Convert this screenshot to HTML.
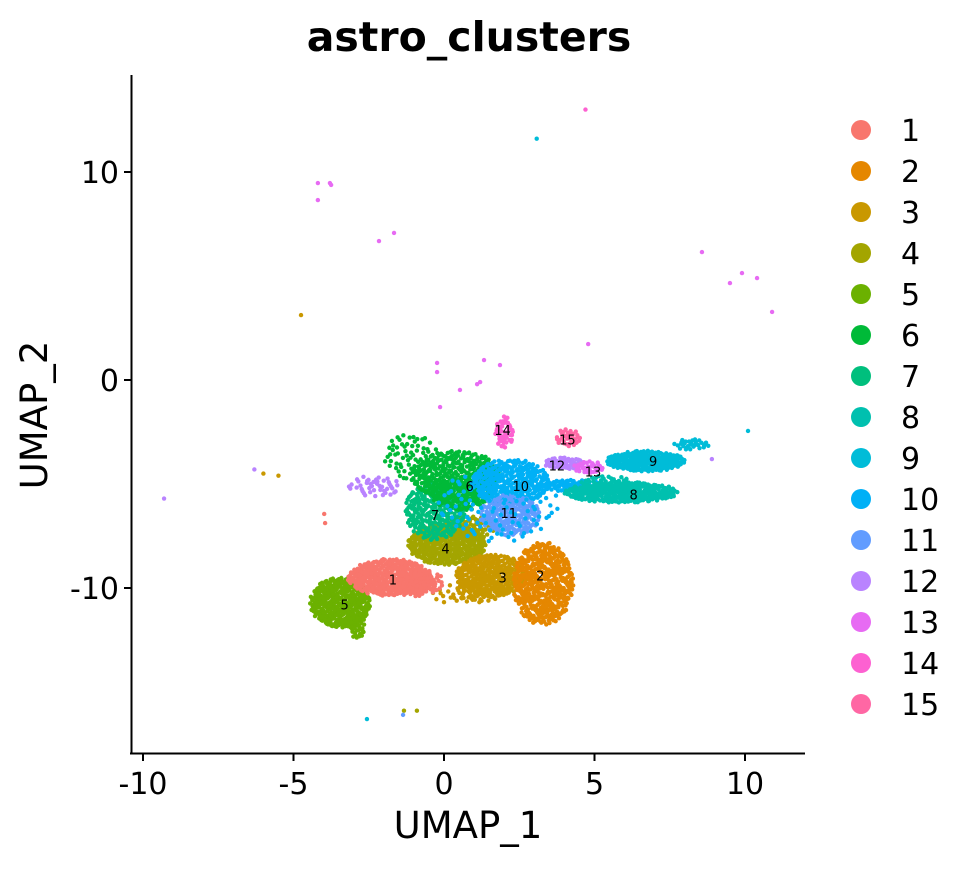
<!DOCTYPE html>
<html><head><meta charset="utf-8"><style>
body{margin:0;background:#fff;}
svg text{font-family:"DejaVu Sans","Liberation Sans",sans-serif;}
</style></head><body>
<svg id="chart" width="960" height="864" xmlns="http://www.w3.org/2000/svg">
<rect width="960" height="864" fill="#fff"/>
<text x="469" y="51" font-size="41" font-weight="bold" text-anchor="middle">astro_clusters</text>
<g id="points"></g>
<g id="labels"></g>
<line x1="131.5" y1="75" x2="131.5" y2="754" stroke="#000" stroke-width="2"/>
<line x1="130" y1="753.5" x2="805" y2="753.5" stroke="#000" stroke-width="2"/>
<g id="axes"></g>
<text x="468" y="838" font-size="37" text-anchor="middle">UMAP_1</text>
<text transform="translate(47,415) rotate(-90)" font-size="37" text-anchor="middle">UMAP_2</text>
<g id="legend"></g>
</svg>
<script>
const colors=["#F8766D","#E58700","#C99800","#A3A500","#6BB100","#00BA38","#00BF7D","#00C0AF","#00BCD8","#00B0F6","#619CFF","#B983FF","#E76BF3","#FD61D1","#FF67A4"];
const clusterNames=["1","2","3","4","5","6","7","8","9","10","11","12","13","14","15"];
const xTicks=[-10,-5,0,5,10];
const yTicks=[10,0,-10];
// blobs: cluster index, centre, radii (data units), count
const blobCluster=[4,4,0,0,3,3,6,5,5,5,9,9,10,2,2,1,7,7,8,8,11,11,12,13,14,2,0,9];
const blobX=[-3.45,-2.9,-1.8,-0.9,0.1,0.9,-0.3,0.4,-1.1,0.6,2.2,4.3,2.2,1.6,1.2,3.3,5.9,5.4,6.7,8.2,4.0,-2.3,4.8,2.0,4.15,0.5,-0.3,1.8];
const blobY=[-10.7,-11.8,-9.5,-9.8,-7.9,-7.1,-6.3,-4.6,-3.7,-5.5,-4.9,-5.1,-6.5,-9.4,-10.1,-9.8,-5.4,-5.0,-3.9,-3.1,-4.0,-5.1,-4.2,-2.5,-2.75,-10.3,-9.8,-6.0];
const blobRX=[1.0,0.3,1.4,0.6,1.3,0.8,1.0,1.5,0.9,1.0,1.3,1.0,1.0,1.2,0.8,1.0,1.9,0.9,1.3,0.6,0.7,0.9,0.5,0.3,0.45,0.9,0.3,2.0];
const blobRY=[1.2,0.6,0.9,0.6,1.0,0.6,1.4,1.2,1.1,0.8,1.1,0.3,1.0,1.0,0.6,2.0,0.5,0.4,0.5,0.25,0.3,0.5,0.3,0.8,0.45,0.5,0.5,1.8];
const blobN=[400,40,400,80,400,80,300,350,70,150,320,80,220,330,60,480,300,60,250,30,60,45,40,50,40,25,20,120];
// individual outlier cells
const outCluster=[12,12,12,12,12,12,12,12,12,12,12,12,12,12,12,12,12,12,12,12,13,8,8,8,2,2,2,11,11,11,0,0,3,3,10];
const outX=[-4.19,-3.79,-4.19,-3.75,-2.16,-1.66,8.57,9.9,10.4,9.5,10.9,4.79,-0.23,-0.23,1.33,1.86,-0.13,0.53,1.2,1.1,4.7,3.08,10.1,-2.56,-4.75,-6.0,-5.5,-9.3,-6.3,8.9,-3.98,-3.95,-1.33,-0.9,-1.36];
const outY=[9.47,9.47,8.65,9.38,6.68,7.07,6.15,5.14,4.9,4.66,3.27,1.73,0.82,0.38,0.96,0.72,-1.3,-0.48,-0.1,-0.2,13.0,11.6,-2.45,-16.3,3.12,-4.5,-4.6,-5.7,-4.3,-3.8,-6.44,-6.88,-15.9,-15.9,-16.1];
const labelX=[-1.7,3.2,1.95,0.05,-3.3,0.85,-0.3,6.3,6.95,2.55,2.15,3.75,4.95,1.95,4.1];
const labelY=[-9.6,-9.4,-9.5,-8.1,-10.8,-5.1,-6.5,-5.5,-3.9,-5.1,-6.4,-4.1,-4.4,-2.4,-2.85];

const sx=v=>444+v*30.1, sy=v=>380-v*20.8;
const NS="http://www.w3.org/2000/svg";
function mk(tag,attrs,parent){const e=document.createElementNS(NS,tag);for(const k in attrs)e.setAttribute(k,attrs[k]);parent.appendChild(e);return e;}
function vdc(n,base){let v=0,d=1;while(n>0){d*=base;v+=(n%base)/d;n=Math.floor(n/base);}return v;}
const pg=document.getElementById('points');
let seq=1;
for(let b=0;b<blobX.length;b++){
  let placed=0;
  while(placed<blobN[b]){
    const u=vdc(seq,2)*2-1, w=vdc(seq,3)*2-1; seq++;
    if(u*u+w*w>1) continue;
    placed++;
    const c=mk('circle',{cx:sx(blobX[b]+blobRX[b]*u),cy:sy(blobY[b]+blobRY[b]*w),r:2.2,fill:colors[blobCluster[b]]},pg);
    
    
  }
}
for(let i=0;i<outX.length;i++){
  const c=mk('circle',{cx:sx(outX[i]),cy:sy(outY[i]),r:2.2,fill:colors[outCluster[i]]},pg);
  
  
}
const lg=document.getElementById('labels');
for(let i=0;i<labelX.length;i++){
  const t=mk('text',{x:sx(labelX[i]),y:sy(labelY[i])+5,'font-size':13,'text-anchor':'middle',fill:'#000'},lg);
  t.textContent=clusterNames[i];
  
  
}
const ax=document.getElementById('axes');
xTicks.forEach(v=>{
  const l=mk('line',{x1:sx(v),x2:sx(v),y1:754,y2:761,stroke:'#000','stroke-width':2},ax);
  
  
  const t=mk('text',{x:sx(v),y:794,'font-size':30,'text-anchor':'middle',fill:'#000'},ax);
  t.textContent=v;
  
  
});
yTicks.forEach(v=>{
  const l=mk('line',{x1:124,x2:131,y1:sy(v),y2:sy(v),stroke:'#000','stroke-width':2},ax);
  
  
  const t=mk('text',{x:119,y:sy(v)+11,'font-size':30,'text-anchor':'end',fill:'#000'},ax);
  t.textContent=v;
  
  
});
const leg=document.getElementById('legend');
clusterNames.forEach((n,i)=>{
  const y=130+i*41;
  const c=mk('circle',{cx:861,cy:y,r:10,fill:colors[i]},leg);
  
  
  const t=mk('text',{x:901,y:y+11,'font-size':30,fill:'#000'},leg);
  t.textContent=n;
  
  
});
</script>
</body></html>
